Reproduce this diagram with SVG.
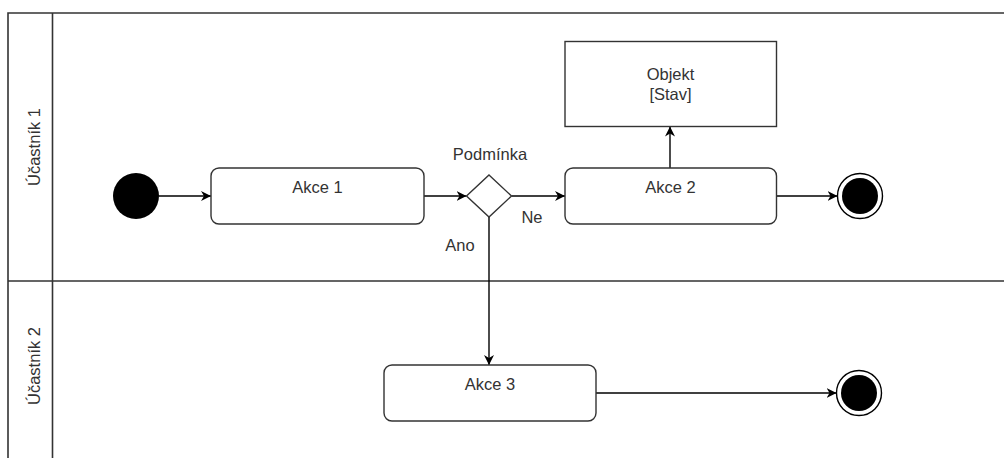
<svg xmlns="http://www.w3.org/2000/svg" width="1004" height="458" viewBox="0 0 1004 458">
  <defs>
    <marker id="arrow" viewBox="0 0 10 10" refX="10" refY="5" markerWidth="10" markerHeight="10" markerUnits="userSpaceOnUse" orient="auto">
      <path d="M0,0 L10,5 L0,10 L3,5 z" fill="#000"/>
    </marker>
    <style>
      .lane { fill: none; stroke: #333; stroke-width: 1.6; }
      .action { fill: #fff; stroke: #333; stroke-width: 1.4; }
      .obj { fill: #fff; stroke: #333; stroke-width: 1.4; }
      .edge { fill: none; stroke: #000; stroke-width: 1.4; marker-end: url(#arrow); }
      .lbl { font-family: "Liberation Sans", Arial, sans-serif; font-size: 16.5px; fill: #333; text-anchor: middle; }
    </style>
  </defs>
  <rect width="1004" height="458" fill="#fff"/>

  <!-- swimlanes -->
  <g id="lanes">
    <path class="lane" d="M8,458 V13 H1004 M52.5,13 V458 M8,281 H1004"/>
    <text class="lbl" transform="translate(40,147) rotate(-90)">Účastník 1</text>
    <text class="lbl" transform="translate(40,366) rotate(-90)">Účastník 2</text>
  </g>

  <!-- connectors -->
  <g id="connectors">
    <path class="edge" d="M159,196 H211"/>
    <path class="edge" d="M424,196 H466.5"/>
    <path class="edge" d="M511.5,196 H565"/>
    <path class="edge" d="M489,217 V365"/>
    <path class="edge" d="M670,168 V126.5"/>
    <path class="edge" d="M776.5,196 H837.5"/>
    <path class="edge" d="M596,393 H836.5"/>
    <text class="lbl" x="490" y="160">Podmínka</text>
    <text class="lbl" x="532" y="222.5">Ne</text>
    <text class="lbl" x="460" y="251">Ano</text>
  </g>

  <g id="start">
    <circle cx="136" cy="196" r="23" fill="#000"/>
  </g>

  <g id="akce1">
    <rect class="action" x="211" y="168" width="213" height="56" rx="8"/>
    <text class="lbl" x="317.5" y="192.5">Akce 1</text>
  </g>

  <g id="decision">
    <path d="M489,175 L511.5,196 L489,217 L466.5,196 z" fill="#fff" stroke="#333" stroke-width="1.4"/>
  </g>

  <g id="akce2">
    <rect class="action" x="565" y="168" width="211.5" height="56" rx="8"/>
    <text class="lbl" x="670.5" y="192.5">Akce 2</text>
  </g>

  <g id="objekt">
    <rect class="obj" x="565" y="41.5" width="211.5" height="85"/>
    <text class="lbl" x="670.5" y="80">Objekt</text>
    <text class="lbl" x="670.5" y="100">[Stav]</text>
  </g>

  <g id="end1">
    <circle cx="860" cy="196" r="22.5" fill="#fff" stroke="#000" stroke-width="1.4"/>
    <circle cx="860" cy="196" r="18" fill="#000"/>
  </g>

  <g id="akce3">
    <rect class="action" x="384" y="365" width="212" height="56" rx="8"/>
    <text class="lbl" x="490" y="390">Akce 3</text>
  </g>

  <g id="end2">
    <circle cx="859" cy="393" r="22.5" fill="#fff" stroke="#000" stroke-width="1.4"/>
    <circle cx="859" cy="393" r="18" fill="#000"/>
  </g>
</svg>
